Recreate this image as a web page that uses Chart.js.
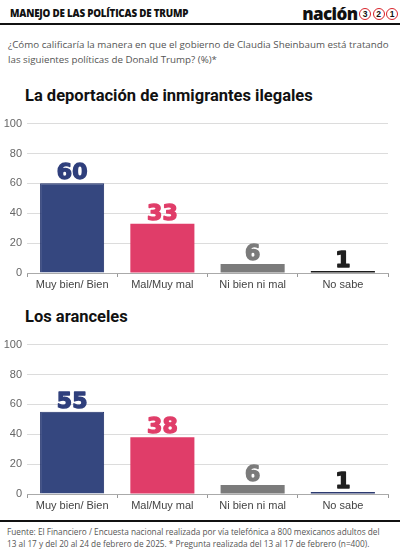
<!DOCTYPE html>
<html>
<head>
<meta charset="utf-8">
<script src="https://cdn.jsdelivr.net/npm/chart.js@4/dist/chart.umd.min.js"></script>
<style>
  body { margin: 0; background: #fff; width: 400px; height: 558px; position: relative; overflow: hidden; font-family: "Open Sans", sans-serif; }
  .hdr { position: absolute; left: 10px; top: 7px; font: 800 9.8px "Open Sans", sans-serif; color: #111; letter-spacing: -0.2px; }
  .logo { position: absolute; right: 2px; top: 2px; font: 800 17px "Open Sans", sans-serif; color: #111; display: flex; align-items: center; letter-spacing: -0.6px; }
  .logo span.c { display: inline-block; width: 10px; height: 10px; border: 1.7px solid #d8232a; border-radius: 50%; font: bold 8.5px "Liberation Sans", sans-serif; line-height: 10px; text-align: center; margin-left: 1.5px; color: #111; letter-spacing: 0; }
  .rule { position: absolute; left: 0; width: 400px; height: 2px; background: #111; }
  .sub { position: absolute; left: 8px; top: 37px; white-space: nowrap; font-size: 9.75px; line-height: 15px; color: #555; }
  .ttl { position: absolute; left: 25px; font: bold 16.5px "Roboto", sans-serif; color: #111; }
  .box { position: absolute; left: 0; width: 396px; height: 181px; }
  .foot { position: absolute; left: 7px; top: 526px; white-space: nowrap; font-size: 8.25px; line-height: 12px; color: #555; }
</style>
</head>
<body>
<div class="hdr">MANEJO DE LAS POLÍTICAS DE TRUMP</div>
<div class="logo">nación<span class="c">3</span><span class="c">2</span><span class="c">1</span></div>
<div class="rule" style="top:23px"></div>
<div class="sub">¿Cómo calificaría la manera en que el gobierno de Claudia Sheinbaum está tratando<br>las siguientes políticas de Donald Trump? (%)*</div>

<div class="ttl" style="top:86px">La deportación de inmigrantes ilegales</div>
<div class="box" style="top:112px"><canvas id="chart1"></canvas></div>

<div class="ttl" style="top:307px">Los aranceles</div>
<div class="box" style="top:333px"><canvas id="chart2"></canvas></div>

<div class="rule" style="top:520px"></div>
<div class="foot">Fuente: El Financiero / Encuesta nacional realizada por vía telefónica a 800 mexicanos adultos del<br>13 al 17 y del 20 al 24 de febrero de 2025. * Pregunta realizada del 13 al 17 de febrero (n=400).</div>

<script>
// Datos de la encuesta
const categorias = ["Muy bien/ Bien", "Mal/Muy mal", "Ni bien ni mal", "No sabe"];
const deportacion = [60, 33, 6, 1];
const aranceles = [55, 38, 6, 1];
const ticksY = [0, 20, 40, 60, 80, 100];

const coloresBarras1 = ["#35477f", "#e03d69", "#7b7b7b", "#1c1c1c"];
const coloresBarras2 = ["#35477f", "#e03d69", "#7b7b7b", "#2c3a70"];
const coloresTexto = ["#2f3f7c", "#e03d69", "#7b7b7b", "#1f1f1f"];

// Plugin para los números encima de las barras
const etiquetas = {
    id: 'etiquetas',
    afterDatasetsDraw(chart) {
        const ctx = chart.ctx;
        const meta = chart.getDatasetMeta(0);
        ctx.save();
        ctx.font = 'bold 22px "DejaVu Sans", sans-serif';
        ctx.textAlign = 'center';
        ctx.textBaseline = 'alphabetic';
        ctx.lineWidth = 1.4;
        ctx.lineJoin = 'round';
        meta.data.forEach((bar, i) => {
            const txt = String(chart.data.datasets[0].data[i]);
            ctx.fillStyle = coloresTexto[i];
            ctx.strokeStyle = coloresTexto[i];
            ctx.fillText(txt, bar.x, bar.y - 4);
            ctx.strokeText(txt, bar.x, bar.y - 4);
        });
        ctx.restore();
    }
};

function crearGrafico(id, valores, colores) {
    const ctx = document.getElementById(id).getContext('2d');
    return new Chart(ctx, {
        type: 'bar',
        data: {
            labels: categorias,
            datasets: [{
                data: valores,
                backgroundColor: colores,
                borderColor: "#1f2f6a",
                borderWidth: [1, 0, 0, 0],
                minBarLength: 2,
                categoryPercentage: 0.71,
                barPercentage: 1
            }]
        },
        options: {
            responsive: true,
            maintainAspectRatio: false,
            animation: false,
            layout: { padding: { top: 11, right: 8, left: 0, bottom: 0 } },
            plugins: { legend: { display: false }, tooltip: { enabled: false } },
            scales: {
                y: {
                    min: 0,
                    max: 100,
                    afterBuildTicks: (scale) => { scale.ticks = ticksY.map(v => ({ value: v })); },
                    afterFit: (scale) => { scale.width = 27; },
                    ticks: { color: "#666", font: { family: "Liberation Sans", size: 11 }, padding: 5 },
                    grid: { color: "#dcdcdc", drawTicks: false },
                    border: { display: false }
                },
                x: {
                    afterFit: (scale) => { scale.height = 20; },
                    ticks: { color: "#444", font: { family: "Liberation Sans", size: 11 }, padding: 1 },
                    grid: { drawOnChartArea: false, tickLength: 4, color: "#999", offset: true },
                    border: { color: "#aaa" }
                }
            }
        },
        plugins: [etiquetas]
    });
}

crearGrafico('chart1', deportacion, coloresBarras1);
crearGrafico('chart2', aranceles, coloresBarras2);
</script>
</body>
</html>
